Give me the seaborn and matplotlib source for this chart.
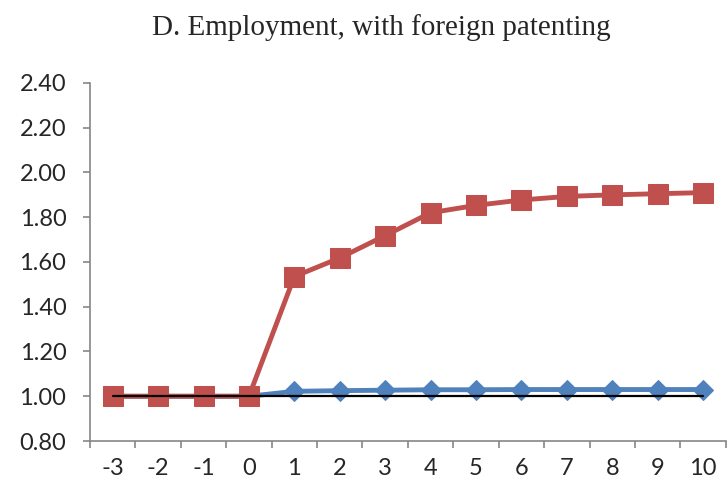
"""
Employment response, with foreign patenting (panel D)
"""

import numpy as np
import pandas as pd
import matplotlib
matplotlib.use("Agg")
import matplotlib.pyplot as plt
import seaborn as sns

# Data
periods = [-3, -2, -1, 0, 1, 2, 3, 4, 5, 6, 7, 8, 9, 10]
blue_vals = [1.00, 1.00, 1.00, 1.00, 1.022, 1.025, 1.027, 1.029, 1.029, 1.03, 1.03, 1.03, 1.03, 1.03]
red_vals = [1.00, 1.00, 1.00, 1.00, 1.535, 1.618, 1.718, 1.82, 1.853, 1.877, 1.893, 1.90, 1.905, 1.91]
base_vals = [1.00] * len(periods)
y_ticks = [0.80, 1.00, 1.20, 1.40, 1.60, 1.80, 2.00, 2.20, 2.40]

BLUE = "#4F81BD"
RED = "#C0504D"
GRAY = "#868686"

df = pd.DataFrame({"period": periods, "blue": blue_vals, "red": red_vals, "base": base_vals})

sns.set_style("white")
plt.rcParams["font.family"] = ["Lato", "DejaVu Sans"]

fig = plt.figure(figsize=(7.28, 4.88), dpi=100)
ax = fig.add_axes([0.1236, 0.0963, 0.8734, 0.7337])

sns.lineplot(data=df, x="period", y="blue", ax=ax, color=BLUE, linewidth=3.5,
             marker="D", markersize=10, markeredgecolor=BLUE, zorder=2)
sns.lineplot(data=df, x="period", y="red", ax=ax, color=RED, linewidth=3.5,
             marker="s", markersize=14, markeredgecolor=RED, zorder=3)
sns.lineplot(data=df, x="period", y="base", ax=ax, color="black", linewidth=1.6, zorder=4)

ax.set_xlim(periods[0] - 0.5, periods[-1] + 0.5)
ax.set_ylim(y_ticks[0], y_ticks[-1])
ax.set_yticks(y_ticks)
ax.set_yticklabels([f"{v:.2f}" for v in y_ticks])
ax.set_xticks(periods)
ax.set_xticklabels([str(p) for p in periods])
ax.set_xticks(np.arange(periods[0] - 0.5, periods[-1] + 1.0, 1.0), minor=True)
ax.set_xlabel("")
ax.set_ylabel("")

for s in ["top", "right"]:
    ax.spines[s].set_visible(False)
for s in ["left", "bottom"]:
    ax.spines[s].set_color(GRAY)
    ax.spines[s].set_linewidth(1.2)

ax.tick_params(axis="y", which="major", length=5, width=1.2, color=GRAY,
               labelsize=17, pad=12, left=True)
ax.tick_params(axis="x", which="major", length=0, labelsize=17, pad=12)
ax.tick_params(axis="x", which="minor", length=5, width=1.2, color=GRAY, bottom=True)

fig.text(0.524, 0.943, "D. Employment, with foreign patenting", ha="center", va="center",
         fontsize=21, family=["Liberation Serif", "DejaVu Serif"])

fig.savefig("out.png", dpi=100)
